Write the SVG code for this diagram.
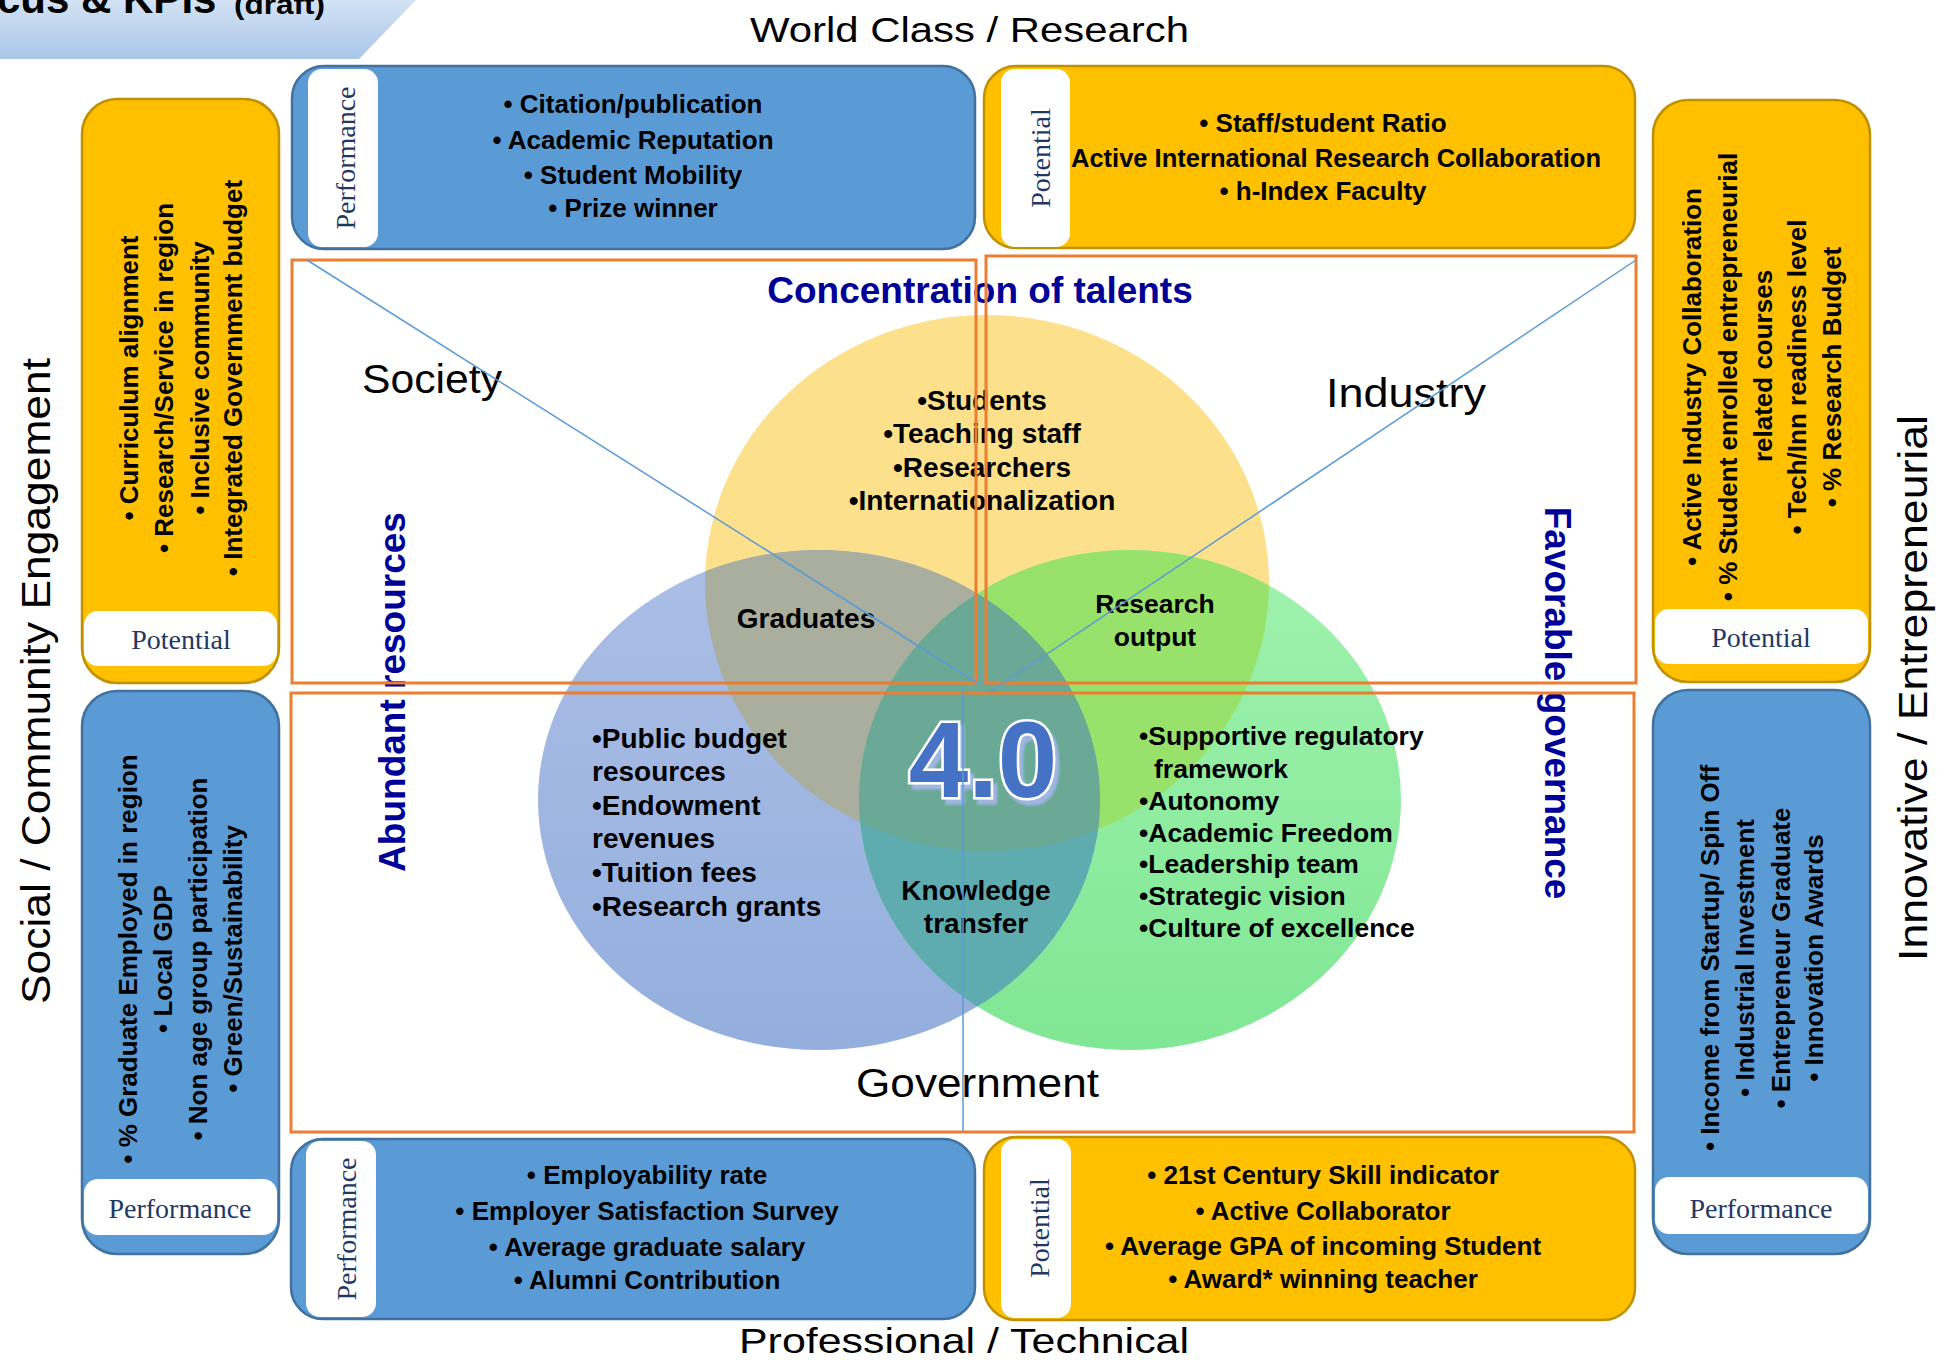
<svg xmlns="http://www.w3.org/2000/svg" width="1947" height="1368" viewBox="0 0 1947 1368">
<style>
.lbl{font-family:"Liberation Sans",Arial,sans-serif;font-size:40px;fill:#000}
.axis{font-family:"Liberation Sans",Arial,sans-serif;font-size:35px;fill:#000}
.kpi{font-family:"Liberation Sans",Arial,sans-serif;font-weight:bold;font-size:26px;fill:#000;text-anchor:middle}
.tag{font-family:"Liberation Serif","Times New Roman",serif;font-size:28px;fill:#1f3864;text-anchor:middle}
.venn{font-family:"Liberation Sans",Arial,sans-serif;font-weight:bold;font-size:28px;fill:#000}
.vg{font-size:26.5px}
.mid{text-anchor:middle}
.theme{font-family:"Liberation Sans",Arial,sans-serif;font-weight:bold;font-size:37px;fill:#000099;text-anchor:middle}
.bluebox{fill:#5b9bd5;stroke:#41719c;stroke-width:2.5}
.yellowbox{fill:#ffc000;stroke:#bf9000;stroke-width:2.5}
.strip{fill:#fff}
.frame{fill:none;stroke:#ed7d31;stroke-width:3}
.conn{stroke:#5b9bd5;stroke-width:1.5;fill:none}
.four{font-family:"Liberation Sans",Arial,sans-serif;font-weight:bold;font-size:107px;text-anchor:middle}
</style>
<defs>
<linearGradient id="gBanner" x1="0" y1="0" x2="0" y2="1">
<stop offset="0" stop-color="#d3e2f4"/>
<stop offset="1" stop-color="#a9c6e9"/>
</linearGradient>
<linearGradient id="gBlue" x1="0" y1="0" x2="0" y2="1">
<stop offset="0" stop-color="#abbfe6"/>
<stop offset="1" stop-color="#94aedd"/>
</linearGradient>
<linearGradient id="gGreen" x1="0" y1="0" x2="0" y2="1">
<stop offset="0" stop-color="#a0f2ae"/>
<stop offset="1" stop-color="#80e794"/>
</linearGradient>
<clipPath id="cY"><ellipse cx="987" cy="583" rx="282" ry="268"/></clipPath>
<clipPath id="cB"><ellipse cx="819" cy="800" rx="281" ry="250"/></clipPath>
<filter id="shadow" x="-10%" y="-10%" width="130%" height="130%">
<feDropShadow dx="4" dy="5" stdDeviation="1" flood-color="#9fb5e2" flood-opacity="1"/>
</filter>
</defs>
<rect width="1947" height="1368" fill="#fff"/>

<g id="title">
<polygon points="0,0 416,0 359,59 0,59" fill="url(#gBanner)"/>
<text x="-3" y="13" font-family="Liberation Sans,Arial,sans-serif" font-weight="bold" font-size="42" fill="#000">cus &amp; KPIs</text>
<text x="234" y="14" font-family="Liberation Sans,Arial,sans-serif" font-weight="bold" font-size="28" fill="#000" textLength="91" lengthAdjust="spacingAndGlyphs">(draft)</text>
</g>

<g id="axis-labels">
<text class="axis" x="750" y="42" textLength="439" lengthAdjust="spacingAndGlyphs">World Class / Research</text>
<text class="axis" x="739" y="1353" textLength="450" lengthAdjust="spacingAndGlyphs">Professional / Technical</text>
<text class="lbl mid" transform="translate(50,681) rotate(-90)" textLength="646" lengthAdjust="spacingAndGlyphs">Social / Community Engagement</text>
<text class="lbl mid" transform="translate(1927,688) rotate(-90)" textLength="546" lengthAdjust="spacingAndGlyphs">Innovative / Entrepreneurial</text>
</g>

<g id="venn">
<ellipse cx="987" cy="583" rx="282" ry="268" fill="#fde08c"/>
<ellipse cx="819" cy="800" rx="281" ry="250" fill="url(#gBlue)"/>
<ellipse cx="1130" cy="800" rx="271" ry="250" fill="url(#gGreen)"/>
<ellipse cx="819" cy="800" rx="281" ry="250" fill="#a9ae9f" clip-path="url(#cY)"/>
<ellipse cx="1130" cy="800" rx="271" ry="250" fill="#98e26c" clip-path="url(#cY)"/>
<ellipse cx="1130" cy="800" rx="271" ry="250" fill="#5eabb0" clip-path="url(#cB)"/>
<g clip-path="url(#cY)"><ellipse cx="1130" cy="800" rx="271" ry="250" fill="#6aa996" clip-path="url(#cB)"/></g>
</g>

<g id="talents">
<text class="theme" x="980" y="303">Concentration of talents</text>
<text class="venn mid" x="982" y="410">•Students</text>
<text class="venn mid" x="982" y="443">•Teaching staff</text>
<text class="venn mid" x="982" y="477">•Researchers</text>
<text class="venn mid" x="982" y="510">•Internationalization</text>
</g>

<g id="resources">
<text class="theme" transform="translate(405,692) rotate(-90)">Abundant resources</text>
<text class="venn" x="592" y="748">•Public budget</text>
<text class="venn" x="592" y="781">resources</text>
<text class="venn" x="592" y="815">•Endowment</text>
<text class="venn" x="592" y="848">revenues</text>
<text class="venn" x="592" y="882">•Tuition fees</text>
<text class="venn" x="592" y="916">•Research grants</text>
</g>

<g id="governance">
<text class="theme" transform="translate(1545,703) rotate(90)">Favorable governance</text>
<text class="venn vg" x="1139" y="745">•Supportive regulatory</text>
<text class="venn vg" x="1154" y="778">framework</text>
<text class="venn vg" x="1139" y="810">•Autonomy</text>
<text class="venn vg" x="1139" y="842">•Academic Freedom</text>
<text class="venn vg" x="1139" y="873">•Leadership team</text>
<text class="venn vg" x="1139" y="905">•Strategic vision</text>
<text class="venn vg" x="1139" y="937">•Culture of excellence</text>
</g>

<g id="overlaps">
<text class="venn mid" x="806" y="628">Graduates</text>
<text class="venn vg mid" x="1155" y="613">Research</text>
<text class="venn vg mid" x="1155" y="646">output</text>
<text class="venn mid" x="976" y="900">Knowledge</text>
<text class="venn mid" x="976" y="933">transfer</text>
</g>

<g id="center-4-0">
<text class="four" x="983" y="797" fill="#4472c4" stroke="#fff" stroke-width="5" paint-order="stroke" filter="url(#shadow)">4.0</text>
</g>

<g id="sectors">
<text class="lbl" x="362" y="393" textLength="140" lengthAdjust="spacingAndGlyphs">Society</text>
<text class="lbl" x="1326" y="407" textLength="160" lengthAdjust="spacingAndGlyphs">Industry</text>
<text class="lbl" x="856" y="1097" textLength="243" lengthAdjust="spacingAndGlyphs">Government</text>
</g>

<g id="frames">
<rect class="frame" x="292" y="260" width="684" height="423"/>
<rect class="frame" x="986" y="256" width="650" height="427"/>
<rect class="frame" x="291" y="693" width="1343" height="439"/>
</g>

<g id="connectors">
<line class="conn" x1="307" y1="260" x2="977" y2="683"/>
<line class="conn" x1="1636" y1="260" x2="990" y2="692"/>
<line class="conn" x1="963" y1="692" x2="963" y2="1132"/>
</g>

<g id="research-performance">
<rect class="bluebox" x="292" y="66" width="683" height="183" rx="32"/>
<rect class="strip" x="308" y="69" width="70" height="178" rx="14"/>
<text class="tag" transform="translate(355,158) rotate(-90)">Performance</text>
<text class="kpi" x="633" y="113">• Citation/publication</text>
<text class="kpi" x="633" y="149">• Academic Reputation</text>
<text class="kpi" x="633" y="184">• Student Mobility</text>
<text class="kpi" x="633" y="217">• Prize winner</text>
</g>

<g id="research-potential">
<rect class="yellowbox" x="984" y="66" width="651" height="182" rx="32"/>
<text class="kpi" x="1323" y="132">• Staff/student Ratio</text>
<text class="kpi" x="1071" y="167" style="text-anchor:start;font-size:25.5px">Active International Research Collaboration</text>
<text class="kpi" x="1323" y="200">• h-Index Faculty</text>
<rect class="strip" x="1001" y="69" width="69" height="178" rx="14"/>
<text class="tag" transform="translate(1050,158) rotate(-90)">Potential</text>
</g>

<g id="professional-performance">
<rect class="bluebox" x="291" y="1139" width="684" height="180" rx="32"/>
<rect class="strip" x="306" y="1141" width="70" height="176" rx="14"/>
<text class="tag" transform="translate(356,1229) rotate(-90)">Performance</text>
<text class="kpi" x="647" y="1184">• Employability rate</text>
<text class="kpi" x="647" y="1220">• Employer Satisfaction Survey</text>
<text class="kpi" x="647" y="1256">• Average graduate salary</text>
<text class="kpi" x="647" y="1289">• Alumni Contribution</text>
</g>

<g id="professional-potential">
<rect class="yellowbox" x="984" y="1137" width="651" height="183" rx="32"/>
<rect class="strip" x="1001" y="1139" width="70" height="179" rx="14"/>
<text class="tag" transform="translate(1049,1228) rotate(-90)">Potential</text>
<text class="kpi" x="1323" y="1184">• 21st Century Skill indicator</text>
<text class="kpi" x="1323" y="1220">• Active Collaborator</text>
<text class="kpi" x="1323" y="1255">• Average GPA of incoming Student</text>
<text class="kpi" x="1323" y="1288">• Award* winning teacher</text>
</g>

<g id="social-potential">
<rect class="yellowbox" x="82" y="99" width="197" height="584" rx="35"/>
<rect class="strip" x="84" y="611" width="193" height="55" rx="14"/>
<text class="tag" x="181" y="649">Potential</text>
<text class="kpi" transform="translate(138,378) rotate(-90)">• Curriculum alignment</text>
<text class="kpi" transform="translate(173,378) rotate(-90)">• Research/Service in region</text>
<text class="kpi" transform="translate(209,378) rotate(-90)">• Inclusive community</text>
<text class="kpi" transform="translate(242,378) rotate(-90)">• Integrated Government budget</text>
</g>

<g id="social-performance">
<rect class="bluebox" x="82" y="691" width="197" height="563" rx="35"/>
<rect class="strip" x="84" y="1179" width="193" height="56" rx="14"/>
<text class="tag" x="180" y="1218">Performance</text>
<text class="kpi" transform="translate(137,959) rotate(-90)">• % Graduate Employed in region</text>
<text class="kpi" transform="translate(172,959) rotate(-90)">• Local GDP</text>
<text class="kpi" transform="translate(207,959) rotate(-90)">• Non age group participation</text>
<text class="kpi" transform="translate(242,959) rotate(-90)">• Green/Sustainability</text>
</g>

<g id="innovative-potential">
<rect class="yellowbox" x="1653" y="100" width="217" height="582" rx="35"/>
<rect class="strip" x="1655" y="609" width="213" height="55" rx="14"/>
<text class="tag" x="1761" y="647">Potential</text>
<text class="kpi" transform="translate(1701,377) rotate(-90)">• Active Industry Collaboration</text>
<text class="kpi" transform="translate(1737,377) rotate(-90)">• % Student enrolled entrepreneurial</text>
<text class="kpi" transform="translate(1772,366) rotate(-90)">related courses</text>
<text class="kpi" transform="translate(1806,377) rotate(-90)">• Tech/Inn readiness level</text>
<text class="kpi" transform="translate(1841,377) rotate(-90)">• % Research Budget</text>
</g>

<g id="innovative-performance">
<rect class="bluebox" x="1653" y="690" width="217" height="564" rx="35"/>
<rect class="strip" x="1655" y="1177" width="213" height="57" rx="14"/>
<text class="tag" x="1761" y="1218">Performance</text>
<text class="kpi" transform="translate(1719,958) rotate(-90)">• Income from Startup/ Spin Off</text>
<text class="kpi" transform="translate(1754,958) rotate(-90)">• Industrial Investment</text>
<text class="kpi" transform="translate(1790,958) rotate(-90)">• Entrepreneur Graduate</text>
<text class="kpi" transform="translate(1823,958) rotate(-90)">• Innovation Awards</text>
</g>
</svg>
